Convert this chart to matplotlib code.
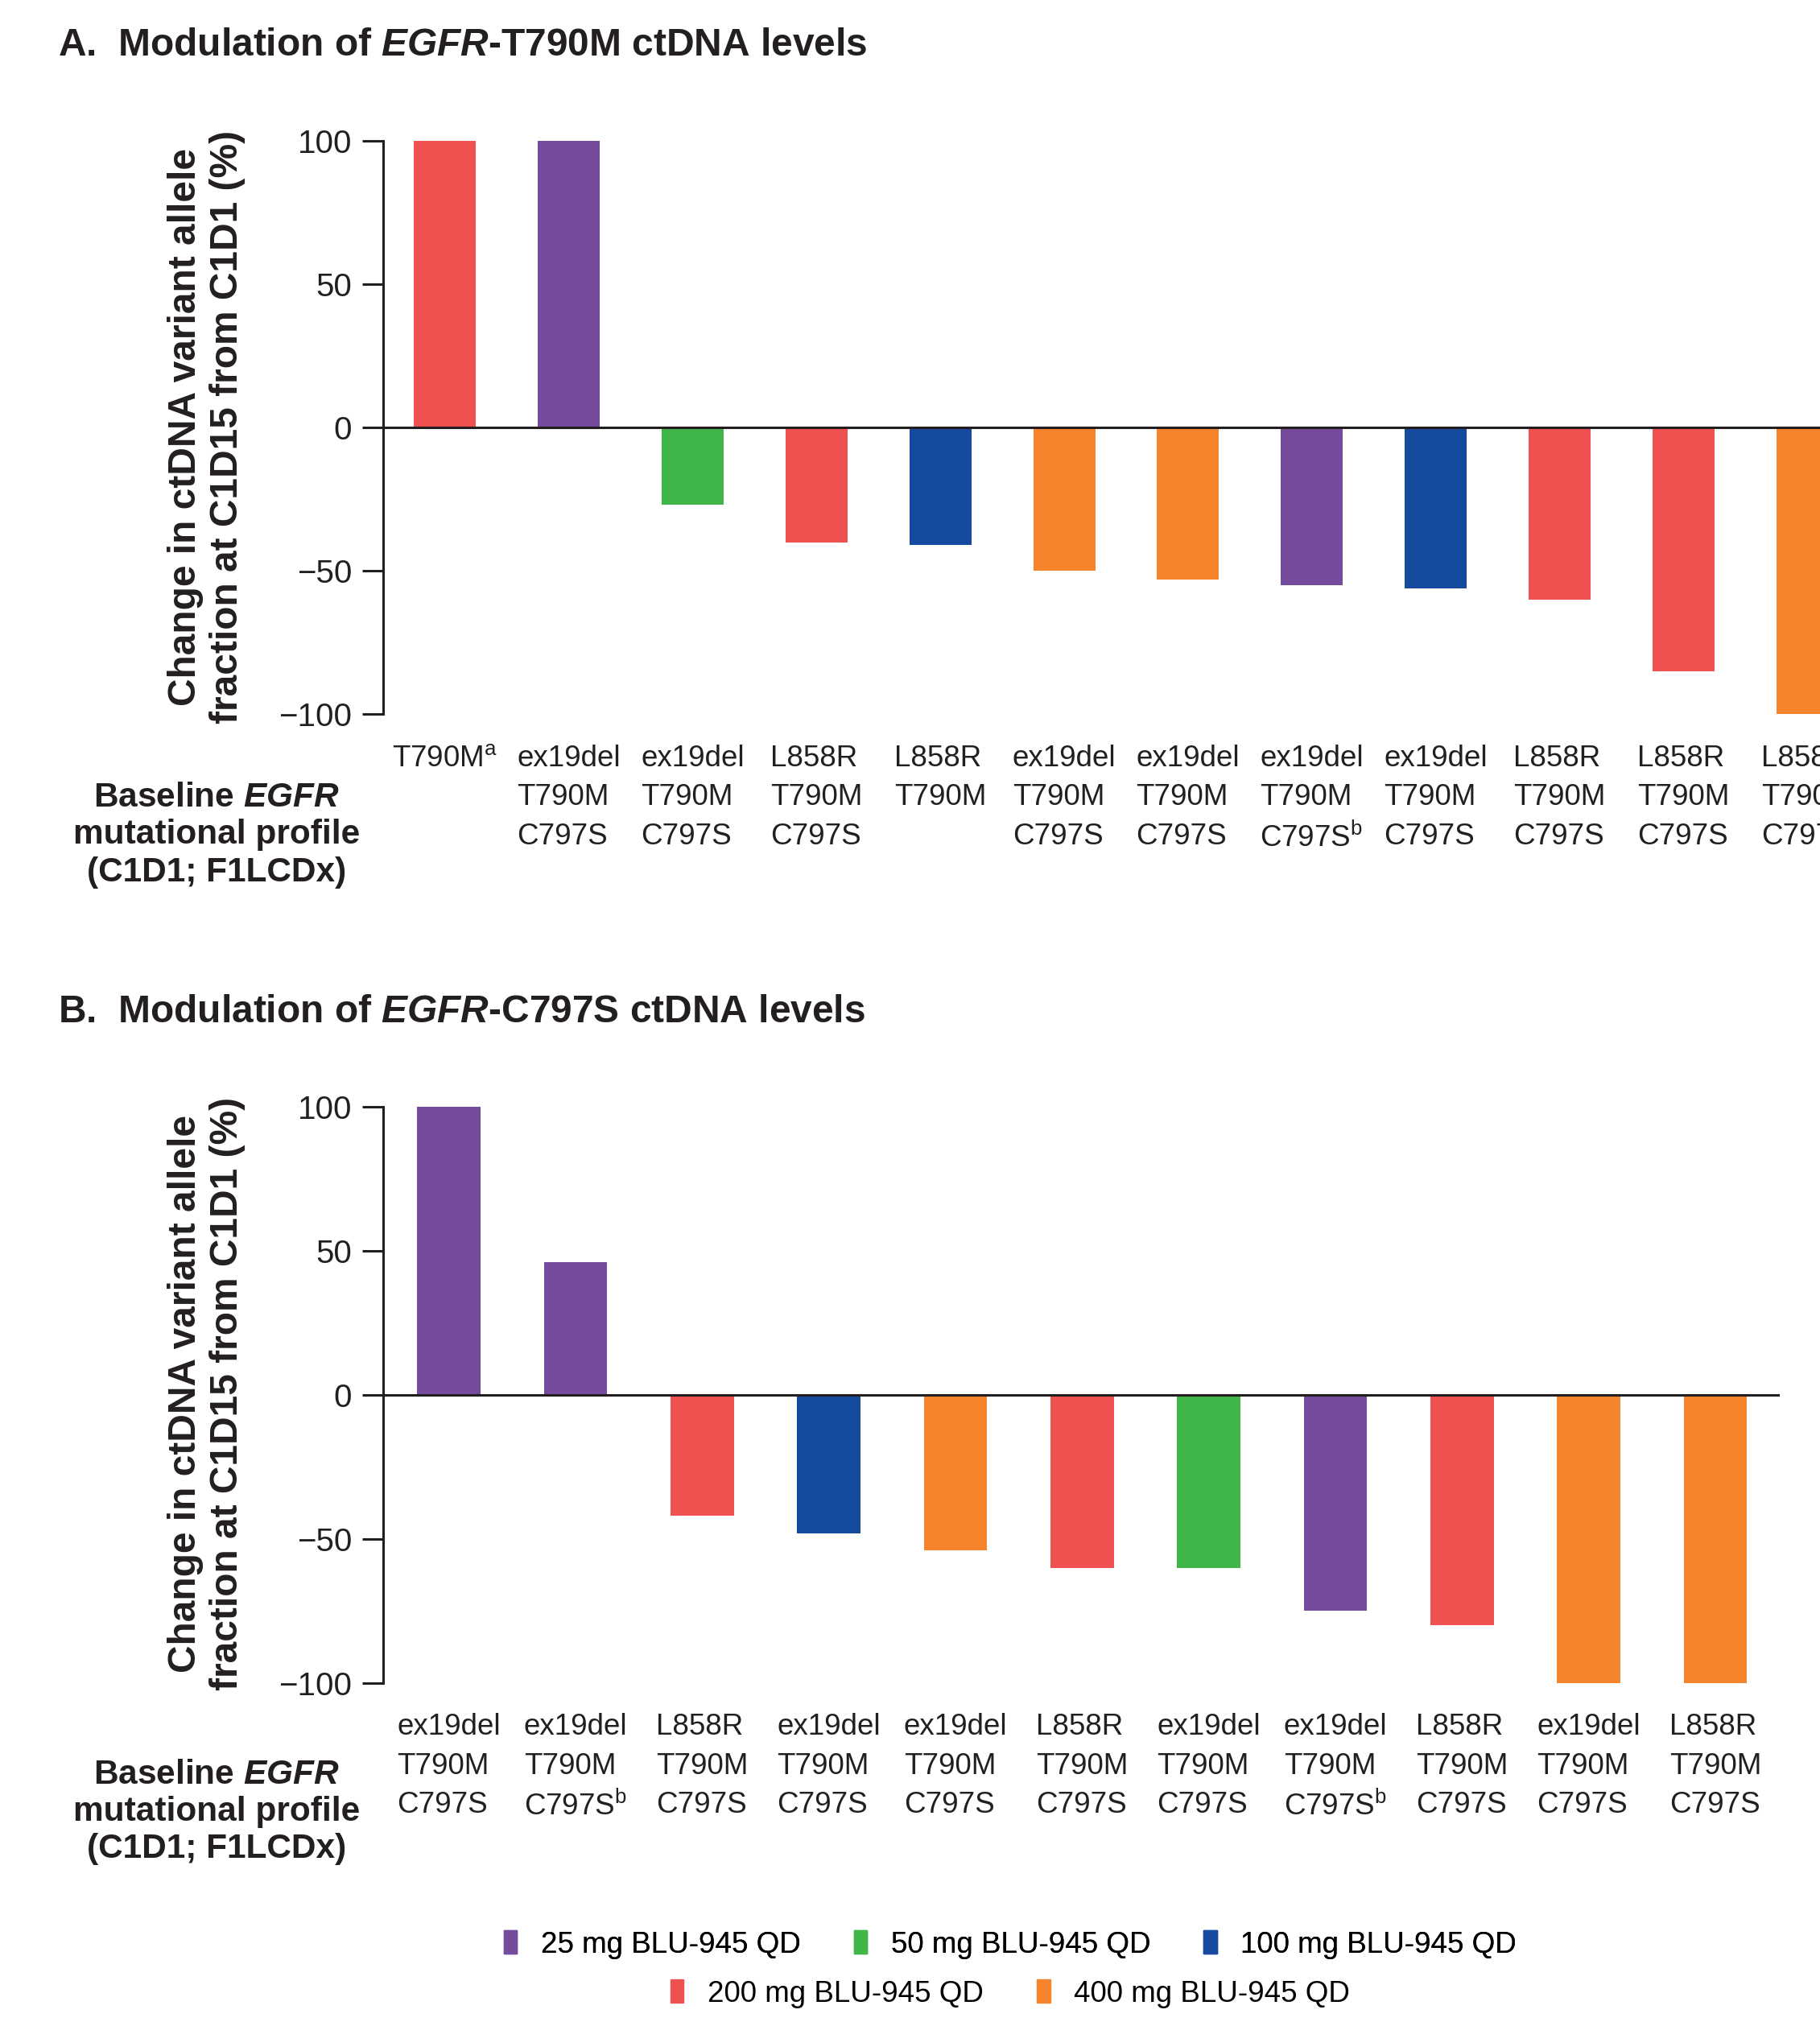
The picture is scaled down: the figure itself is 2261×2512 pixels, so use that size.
import numpy as np
import matplotlib.pyplot as plt
from matplotlib.patches import Patch

plt.rcParams['font.family'] = ['Liberation Sans', 'DejaVu Sans']
plt.rcParams['mathtext.fontset'] = 'custom'
plt.rcParams['mathtext.rm'] = 'Liberation Sans'
plt.rcParams['mathtext.it'] = 'Liberation Sans:italic'
plt.rcParams['mathtext.bf'] = 'Liberation Sans:bold'
plt.rcParams['mathtext.bfit'] = 'Liberation Sans:bold:italic'

# Data
doses = [25, 50, 100, 200, 400]
dose_colors = ['#754C9C', '#40B649', '#154A9E', '#EF5050', '#F5842C']
legend_labels = ['25 mg BLU-945 QD', '50 mg BLU-945 QD', '100 mg BLU-945 QD',
                 '200 mg BLU-945 QD', '400 mg BLU-945 QD']

labels_a = ["T790M$^{\\mathrm{a}}$",
            "ex19del\nT790M\nC797S", "ex19del\nT790M\nC797S", "L858R\nT790M\nC797S",
            "L858R\nT790M", "ex19del\nT790M\nC797S", "ex19del\nT790M\nC797S",
            "ex19del\nT790M\nC797S$^{\\mathrm{b}}$", "ex19del\nT790M\nC797S",
            "L858R\nT790M\nC797S", "L858R\nT790M\nC797S", "L858R\nT790M\nC797S"]
change_a = [100, 100, -27, -40, -41, -50, -53, -55, -56, -60, -85, -100]
dose_a = [200, 25, 50, 200, 100, 400, 400, 25, 100, 200, 200, 400]

labels_b = ["ex19del\nT790M\nC797S", "ex19del\nT790M\nC797S$^{\\mathrm{b}}$",
            "L858R\nT790M\nC797S", "ex19del\nT790M\nC797S", "ex19del\nT790M\nC797S",
            "L858R\nT790M\nC797S", "ex19del\nT790M\nC797S",
            "ex19del\nT790M\nC797S$^{\\mathrm{b}}$", "L858R\nT790M\nC797S",
            "ex19del\nT790M\nC797S", "L858R\nT790M\nC797S"]
change_b = [100, 46, -42, -48, -54, -60, -60, -75, -80, -100, -100]
dose_b = [25, 25, 200, 100, 400, 200, 50, 25, 200, 400, 400]

color_of = dict(zip(doses, dose_colors))

fig = plt.figure(figsize=(22.61, 25.12), dpi=100)

ylabel = "Change in ctDNA variant allele\nfraction at C1D15 from C1D1 (%)"
profile = "Baseline $\\mathbfit{EGFR}$\nmutational profile\n(C1D1; F1LCDx)"


def panel(rect, xlim, labels, values, dose, title, title_y, ylab_y, prof_y):
    ax = fig.add_axes(rect)
    x = np.arange(len(values))
    ax.bar(x, values, width=0.5, color=[color_of[d] for d in dose])
    ax.axhline(0, color='#231F20', lw=2.2, zorder=3)
    ax.set_xlim(*xlim)
    ax.set_ylim(-100, 100)
    ax.set_yticks([100, 50, 0, -50, -100])
    ax.set_yticklabels(['100', '50', '0', '\u2212' + '50', '\u2212' + '100'])
    ax.set_xticks(x, labels)
    for t in ax.get_xticklabels():
        t.set_multialignment('left')
        t.set_linespacing(1.5)
    ax.tick_params(axis='x', length=0, pad=27, labelsize=26.5, colors='#231F20')
    ax.tick_params(axis='y', length=19, width=2.2, pad=9, labelsize=29, colors='#231F20')
    for s in ['top', 'right', 'bottom']:
        ax.spines[s].set_visible(False)
    ax.spines['left'].set_linewidth(2.2)
    ax.spines['left'].set_color('#231F20')
    fig.text(0.032, title_y, title, fontsize=34.5, fontweight='bold', va='center', color='#231F20')
    fig.text(0.1135, ylab_y, ylabel, rotation=90, fontsize=34.5, fontweight='bold',
             ha='center', va='center', multialignment='center', linespacing=1.22, color='#231F20')
    fig.text(0.119, prof_y, profile, fontsize=30.5, fontweight='bold', ha='center', va='center',
             multialignment='center', linespacing=1.2, color='#231F20')
    return ax


panel([0.2105, 0.6467, 0.8165, 0.2838], (-0.5, 11.5), labels_a, change_a, dose_a,
      "A.  Modulation of $\\mathbfit{EGFR}$-T790M ctDNA levels", 0.9777, 0.789, 0.587)
panel([0.2105, 0.1677, 0.7675, 0.2851], (-0.52, 10.51), labels_b, change_b, dose_b,
      "B.  Modulation of $\\mathbfit{EGFR}$-C797S ctDNA levels", 0.4994, 0.3106, 0.104)

handles = [Patch(color=c) for c in dose_colors]
leg1 = fig.legend(handles[:3], legend_labels[:3], ncol=3, loc='center', bbox_to_anchor=(0.555, 0.0383),
                  frameon=False, fontsize=26.5, handlelength=0.45, handleheight=0.85, handletextpad=0.8,
                  columnspacing=1.8)
fig.add_artist(leg1)
fig.legend(handles[3:], legend_labels[3:], ncol=2, loc='center', bbox_to_anchor=(0.555, 0.014),
           frameon=False, fontsize=26.5, handlelength=0.45, handleheight=0.85, handletextpad=0.8,
           columnspacing=1.8)

plt.savefig('out.png', dpi=100)
